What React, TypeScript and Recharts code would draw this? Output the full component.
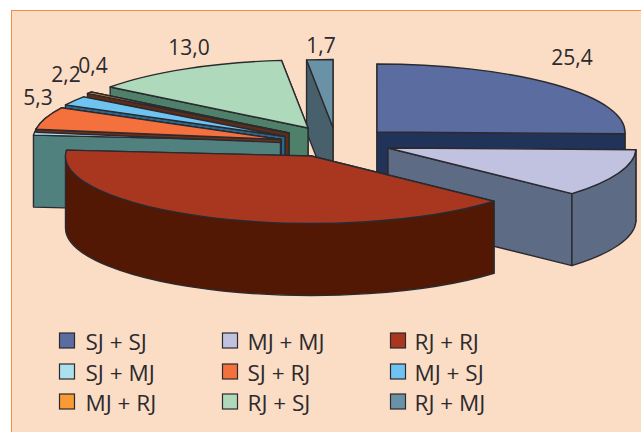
import React from "react";
import { PieChart, Pie } from "recharts";

const categories = ["SJ + SJ", "MJ + MJ", "RJ + RJ", "SJ + MJ", "SJ + RJ", "MJ + SJ", "MJ + RJ", "RJ + SJ", "RJ + MJ"];
const shares = [25.4, 11.3, 39.1, 1.6, 5.3, 2.2, 0.4, 13.0, 1.7];
const labelled = [true, true, true, false, true, true, true, true, true];

const topColors = ["#5B6DA0", "#C1C2E0", "#A93720", "#ACE0EC", "#F4703C", "#6EC3F0", "#F99A34", "#AEDABB", "#6A92A6"];
const sideColors = ["#22335A", "#5D6B85", "#521804", "#50817F", "#6F2F1B", "#2A678E", "#5C2E1A", "#4E806A", "#47606C"];

// Offsets of each exploded slice from the pie centre
const explodeX = [65.5, 76.5, 0, -31, -30.5, -26.5, -22.5, -3.5, 21.5];
const explodeY = [-24, -8, 0, -15, -16.5, -19.5, -23, -28, -28.5];
const radiusScale = [1.008, 1.008, 1, 1.008, 1.008, 1.008, 1.008, 1.008, 1.008];
// Small drawing corrections of a slice's edges, in degrees
const startNudge = [0, 0, 0, 2.1, 0, 0, 0, 0, 0];
const endNudge = [0, 0, 2.1, 0, 0, 0, 0, 0, 0];
// Text centre for each value label
const labelX = [572, 572, 318, 0, 38, 66, 93, 189, 321];
const labelY = [57, 169, 192, 0, 97, 74, 65, 47, 45];
// Back-to-front painting passes: slice index and extrusion depth
const paintOrder = [0, 1, 8, 7, 6, 5, 4, 3, 4, 2];
const paintDepth = [72, 72, 72, 72, 72, 72, 72, 72, 3, 72];

const legendColX = [59.5, 222.5, 390.5];
const legendRowY = [340.5, 371.5, 401.5];
const legendTextGap = [26, 25, 24];

const CX = 311.5;
const CY = 156;
const RX = 246;
const SQUASH = 68 / 248;
const EDGE = "#2B2A2E";

const data = categories.map((name, i) => ({ name, value: shares[i] }));

function Slice3D(props: any, k: number, depth: number) {
  const { cx, cy, outerRadius, startAngle, endAngle } = props;
  const ox = cx + explodeX[k];
  const oy = cy + explodeY[k];
  const rx = outerRadius * radiusScale[k];
  const ry = rx * SQUASH;
  const pt = (t: number, dy = 0) => {
    const r = (t * Math.PI) / 180;
    return [ox + rx * Math.sin(r), oy - ry * Math.cos(r) + dy];
  };
  const t1 = 90 - startAngle + startNudge[k];
  const t2 = 90 - endAngle + endNudge[k];
  const A = pt(t1);
  const B = pt(t2);
  const cut = (P: number[]) =>
    `M${ox},${oy} L${P[0]},${P[1]} L${P[0]},${P[1] + depth} L${ox},${oy + depth} Z`;
  const [backFace, frontFace] = A[1] < B[1] ? [A, B] : [B, A];
  const w1 = Math.max(t1, 90);
  const w2 = Math.min(t2, 270);
  const hasWall = w2 > w1;
  const W1 = pt(w1);
  const W2 = pt(w2);
  const wall = `M${W1[0]},${W1[1]} A${rx},${ry} 0 0 1 ${W2[0]},${W2[1]} L${W2[0]},${W2[1] + depth} A${rx},${ry} 0 0 0 ${W1[0]},${W1[1] + depth} Z`;
  const large = t2 - t1 > 180 ? 1 : 0;
  const top = `M${ox},${oy} L${A[0]},${A[1]} A${rx},${ry} 0 ${large} 1 ${B[0]},${B[1]} Z`;
  const common = { stroke: EDGE, strokeWidth: 1.4, strokeLinejoin: "round" as const };
  return (
    <g>
      <path d={cut(backFace)} fill={sideColors[k]} {...common} />
      <path d={cut(frontFace)} fill={sideColors[k]} {...common} />
      {hasWall && <path d={wall} fill={sideColors[k]} {...common} />}
      <path d={top} fill={topColors[k]} {...common} />
    </g>
  );
}

const fmt = (v: number) => v.toFixed(1).replace(".", ",");
const FONT = "'Open Sans', sans-serif";

function ValueLabels() {
  return (
    <g>
      {shares.map((v, i) =>
        labelled[i] ? (
          <text key={i} x={labelX[i]} y={labelY[i]} textAnchor="middle" dominantBaseline="central" fontFamily={FONT} fontSize={21} fill="#2B2A2E">
            {fmt(v)}
          </text>
        ) : null
      )}
    </g>
  );
}

function LegendBlock() {
  return (
    <g>
      {categories.map((c, i) => {
        const col = i % 3;
        const x = legendColX[col];
        const y = legendRowY[Math.floor(i / 3)];
        return (
          <g key={c}>
            <rect x={x} y={y - 7.5} width={15} height={15} fill={topColors[i]} stroke={EDGE} strokeWidth={1.2} />
            <text x={x + legendTextGap[col]} y={y + 1} dominantBaseline="central" fontFamily={FONT} fontSize={22.5} fill="#2B2A2E">
              {c}
            </text>
          </g>
        );
      })}
    </g>
  );
}

export default function App() {
  return (
    <div style={{ position: "absolute", left: 0, top: 0, width: 641, height: 432, overflow: "hidden", background: "#fff" }}>
      <div style={{ position: "absolute", left: 11, top: 10, width: 640, height: 430, background: "#FBDCC4", border: "1px solid #F58A46" }} />
      <div style={{ position: "absolute", left: 0, top: 0 }}>
        <PieChart width={641} height={432} margin={{ top: 0, right: 0, bottom: 0, left: 0 }}>
          {paintOrder.map((k, pass) => (
            <Pie
              key={pass}
              data={data}
              dataKey="value"
              nameKey="name"
              cx={CX}
              cy={CY}
              innerRadius={0}
              outerRadius={RX}
              startAngle={90}
              endAngle={-270}
              paddingAngle={0}
              isAnimationActive={false}
              legendType="none"
              stroke="none"
              shape={(p: any, idx: number) => (idx === k ? Slice3D(p, k, paintDepth[pass]) : <g />)}
            />
          ))}
          <ValueLabels />
          <LegendBlock />
        </PieChart>
      </div>
    </div>
  );
}
